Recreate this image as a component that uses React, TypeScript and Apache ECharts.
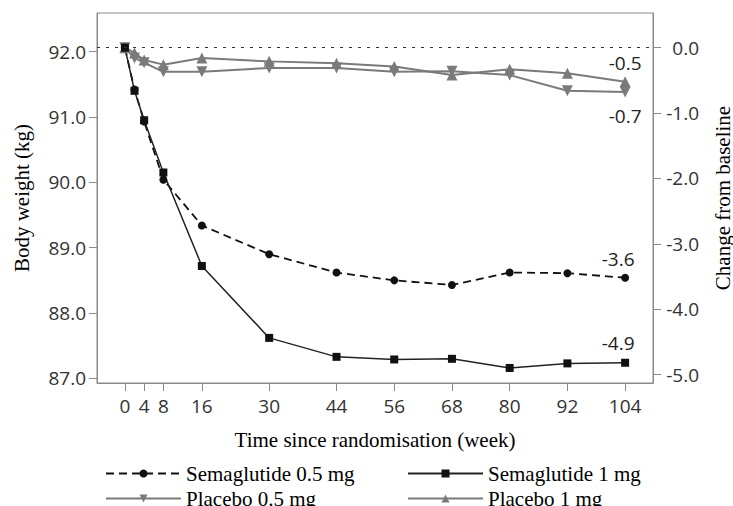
import React, { useEffect, useRef } from "react";
import * as echarts from "echarts";

// ---- data ----
const WEEKS = [0, 2, 4, 8, 16, 30, 44, 56, 68, 80, 92, 104];
const X_TICKS = [0, 4, 8, 16, 30, 44, 56, 68, 80, 92, 104];
const SEMA_05 = [92.06, 91.42, 90.93, 90.04, 89.34, 88.9, 88.62, 88.5, 88.43, 88.62, 88.61, 88.54];
const SEMA_1 = [92.06, 91.4, 90.95, 90.15, 88.72, 87.62, 87.33, 87.29, 87.3, 87.16, 87.23, 87.24];
const PLACEBO_05 = [92.06, 91.9, 91.83, 91.69, 91.69, 91.75, 91.75, 91.69, 91.7, 91.64, 91.4, 91.38];
const PLACEBO_1 = [92.06, 91.98, 91.87, 91.8, 91.9, 91.85, 91.82, 91.77, 91.64, 91.73, 91.67, 91.54];
const LEFT_TICKS = [87, 88, 89, 90, 91, 92];
const RIGHT_TICKS = [0, -1, -2, -3, -4, -5];
const BASELINE = 92.06;
const Y_MIN = 86.93;
const Y_MAX = 92.59;
const X_MIN = -5.8;
const X_MAX = 109.8;
const LABEL_SEMA_05 = "-3.6";
const LABEL_SEMA_1 = "-4.9";
const LABEL_PLACEBO_05 = "-0.7";
const LABEL_PLACEBO_1 = "-0.5";
const NAMES = ["Semaglutide 0.5 mg", "Semaglutide 1 mg", "Placebo 0.5 mg", "Placebo 1 mg"];

const SANS = "Open Sans";
const SERIF = "Liberation Serif";
const FRAME = "#8a8a8a";

function build(values: number[], endLabel: string, labelCfg: any) {
  return WEEKS.map((w, i) => {
    if (i === values.length - 1) {
      return {
        value: [w, values[i]],
        label: {
          show: true,
          formatter: endLabel,
          fontFamily: SANS,
          fontSize: 19,
          color: "#222",
          ...labelCfg,
        },
      };
    }
    return { value: [w, values[i]] };
  });
}

export default function App() {
  const ref = useRef<HTMLDivElement>(null);
  useEffect(() => {
    if (!ref.current) return;
    const chart = echarts.init(ref.current, null, { renderer: "svg" });
    const legendBase = {
      orient: "horizontal",
      selectedMode: false,
      itemWidth: 75,
      itemHeight: 10,
      padding: 0,
      textStyle: { fontFamily: SERIF, fontSize: 21, color: "#000" },
    };
    chart.setOption({
      animation: false,
      backgroundColor: "#fff",
      grid: {
        left: 97,
        right: 80,
        top: 13,
        bottom: 123,
        containLabel: false,
        outerBoundsMode: "none",
        show: true,
        borderColor: FRAME,
        borderWidth: 1,
      },
      legend: [
        { ...legendBase, data: [NAMES[0]], left: 105, top: 463 },
        { ...legendBase, data: [NAMES[1]], left: 407, top: 463 },
        { ...legendBase, data: [NAMES[2]], left: 105, top: 488 },
        { ...legendBase, data: [NAMES[3]], left: 407, top: 488 },
      ],
      xAxis: {
        type: "value",
        min: X_MIN,
        max: X_MAX,
        name: "Time since randomisation (week)",
        nameLocation: "middle",
        nameGap: 46,
        nameTextStyle: { fontFamily: SERIF, fontSize: 21, color: "#000" },
        axisLine: { show: true, onZero: false, lineStyle: { color: FRAME } },
        axisTick: {
          show: true,
          length: 8,
          customValues: X_TICKS,
          lineStyle: { color: FRAME },
        },
        axisLabel: {
          customValues: X_TICKS,
          margin: 13,
          fontFamily: SANS,
          fontSize: 19,
          color: "#333",
        },
        splitLine: { show: false },
      },
      yAxis: [
        {
          type: "value",
          position: "left",
          min: Y_MIN,
          max: Y_MAX,
          name: "Body weight (kg)",
          nameLocation: "middle",
          nameGap: 65,
          nameTextStyle: { fontFamily: SERIF, fontSize: 21, color: "#000" },
          axisLine: { show: true, onZero: false, lineStyle: { color: FRAME } },
          axisTick: {
            show: true,
            length: 8,
            customValues: LEFT_TICKS,
            lineStyle: { color: FRAME },
          },
          axisLabel: {
            customValues: LEFT_TICKS,
            margin: 11,
            formatter: (v: number) => v.toFixed(1),
            fontFamily: SANS,
            fontSize: 19,
            color: "#333",
          },
          splitLine: { show: false },
        },
        {
          type: "value",
          position: "right",
          min: Y_MIN - BASELINE,
          max: Y_MAX - BASELINE,
          name: "Change from baseline",
          nameLocation: "middle",
          nameGap: 59,
          nameTextStyle: { fontFamily: SERIF, fontSize: 21, color: "#000" },
          axisLine: { show: true, onZero: false, lineStyle: { color: FRAME } },
          axisTick: {
            show: true,
            length: 8,
            customValues: RIGHT_TICKS,
            lineStyle: { color: FRAME },
          },
          axisLabel: {
            customValues: RIGHT_TICKS,
            margin: 46,
            align: "right",
            formatter: (v: number) => v.toFixed(1),
            fontFamily: SANS,
            fontSize: 19,
            color: "#333",
          },
          splitLine: { show: false },
        },
      ],
      series: [
        {
          name: NAMES[2],
          type: "line",
          yAxisIndex: 0,
          data: build(PLACEBO_05, LABEL_PLACEBO_05, { position: "bottom", distance: 9 }),
          symbol: "triangle",
          symbolRotate: 180,
          symbolSize: 11,
          itemStyle: { color: "#7a7a7a" },
          lineStyle: { color: "#7a7a7a", width: 2 },
        },
        {
          name: NAMES[3],
          type: "line",
          yAxisIndex: 0,
          data: build(PLACEBO_1, LABEL_PLACEBO_1, { position: "top", distance: 4 }),
          symbol: "triangle",
          symbolSize: 11,
          itemStyle: { color: "#7a7a7a" },
          lineStyle: { color: "#7a7a7a", width: 2 },
        },
        {
          name: NAMES[0],
          type: "line",
          yAxisIndex: 0,
          data: build(SEMA_05, LABEL_SEMA_05, { position: "top", distance: 5, offset: [-7, 0] }),
          symbol: "circle",
          symbolSize: 8,
          itemStyle: { color: "#111" },
          lineStyle: { color: "#111", width: 1.8, type: [8, 5] },
        },
        {
          name: NAMES[1],
          type: "line",
          yAxisIndex: 0,
          data: build(SEMA_1, LABEL_SEMA_1, { position: "top", distance: 6, offset: [-7, 0] }),
          symbol: "rect",
          symbolSize: 8,
          itemStyle: { color: "#111" },
          lineStyle: { color: "#222", width: 1.5 },
          markLine: {
            silent: true,
            symbol: "none",
            label: { show: false },
            lineStyle: { color: "#333", width: 1, type: [3, 6] },
            data: [{ yAxis: BASELINE }],
          },
        },
      ],
    });
    return () => chart.dispose();
  }, []);
  return (
    <div
      ref={ref}
      style={{ position: "fixed", left: 0, top: 0, width: 733, height: 506, background: "#fff" }}
    />
  );
}
